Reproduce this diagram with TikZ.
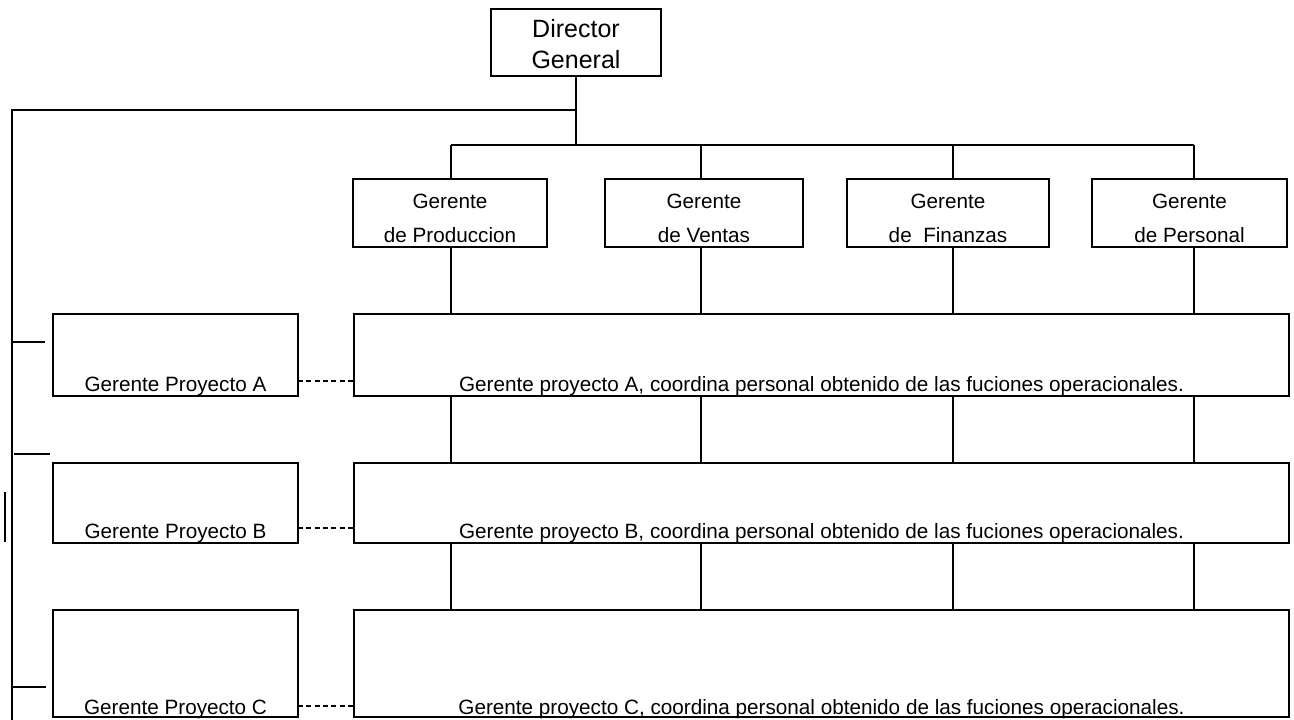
\documentclass[tikz,border=0pt]{standalone}
\usepackage{fontspec}
\setmainfont{Liberation Sans}
\begin{document}
\begin{tikzpicture}[x=1pt,y=-1pt,
  box/.style={draw, line width=2pt, inner sep=0pt, outer sep=0pt, anchor=north west},
  link/.style={line width=2pt},
  dashlink/.style={line width=2pt, dash pattern=on 5pt off 3.3pt},
  txt/.style={inner sep=0pt, anchor=base, font=\fontsize{20.7}{24}\selectfont},
  bigtxt/.style={inner sep=0pt, anchor=base, font=\fontsize{25}{30}\selectfont}]
\useasboundingbox (0,0) rectangle (1294,720);

% director
\node[box, minimum width=170pt, minimum height=67pt] (dir) at (491,9) {};
\node[bigtxt] (dirt1) at (576,37) {Director};
\node[bigtxt] (dirt2) at (576,68) {General};

% functional managers
\node[box, minimum width=194pt, minimum height=68pt] (m1) at (353,179) {};
\node[box, minimum width=198pt, minimum height=68pt] (m2) at (605,179) {};
\node[box, minimum width=202pt, minimum height=68pt] (m3) at (847,179) {};
\node[box, minimum width=195pt, minimum height=68pt] (m4) at (1092,179) {};
\node[txt] (m1a) at (450,208) {Gerente};
\node[txt] (m1b) at (450,242) {de Produccion};
\node[txt] (m2a) at (704,208) {Gerente};
\node[txt] (m2b) at (704,242) {de Ventas};
\node[txt] (m3a) at (948,208) {Gerente};
\node[txt] (m3b) at (948,242) {de~\ Finanzas};
\node[txt] (m4a) at (1189.5,208) {Gerente};
\node[txt] (m4b) at (1189.5,242) {de Personal};

% project rows
\node[box, minimum width=935pt, minimum height=82pt] (A) at (354,314) {};
\node[box, minimum width=935pt, minimum height=80pt] (B) at (354,463) {};
\node[box, minimum width=935pt, minimum height=107pt] (C) at (354,610) {};
\node[box, minimum width=245pt, minimum height=82pt] (pA) at (53,314) {};
\node[box, minimum width=245pt, minimum height=80pt] (pB) at (53,463) {};
\node[box, minimum width=245pt, minimum height=107pt] (pC) at (53,610) {};

\node[txt] (pAt) at (175.5,391) {Gerente Proyecto A};
\node[txt] (pBt) at (175.5,538) {Gerente Proyecto B};
\node[txt] (pCt) at (175.5,714) {Gerente Proyecto C};
\node[txt] (At) at (821.5,391) {Gerente proyecto A, coordina personal obtenido de las fuciones operacionales.};
\node[txt] (Bt) at (821.5,538) {Gerente proyecto B, coordina personal obtenido de las fuciones operacionales.};
\node[txt] (Ct) at (821.5,714) {Gerente proyecto C, coordina personal obtenido de las fuciones operacionales.};

% bus and drop points
\coordinate (c1) at (451,145);
\coordinate (c2) at (701,145);
\coordinate (c3) at (953,145);
\coordinate (c4) at (1194,145);
\coordinate (L) at (12,110);
\coordinate (Lend) at (12,720);

\draw[link] (dir.south) -- (dir.south |- c1);
\draw[link] (c1) -- (c4);
\draw[link] (dir.south |- L) -- (L) -- (Lend);
\foreach \i in {1,2,3,4}{
  \draw[link] (c\i) -- (c\i |- m\i.north);
  \draw[link] (c\i |- m\i.south) -- (c\i |- A.north);
  \draw[link] (c\i |- A.south) -- (c\i |- B.north);
  \draw[link] (c\i |- B.south) -- (c\i |- C.north);
}

% project managers to coordination rows
\coordinate (dA) at (0,381);
\coordinate (dB) at (0,528);
\coordinate (dC) at (0,706);
\draw[dashlink] (pA.east |- dA) -- (A.west |- dA);
\draw[dashlink] (pB.east |- dB) -- (B.west |- dB);
\draw[dashlink] (pC.east |- dC) -- (C.west |- dC);

% short ticks on the left spine
\coordinate (sA) at (12,342);
\coordinate (sAe) at (45,342);
\coordinate (sB) at (14,454);
\coordinate (sBe) at (50,454);
\coordinate (sC) at (12,687);
\coordinate (sCe) at (46,687);
\coordinate (v1) at (4.5,492);
\coordinate (v2) at (4.5,542);
\draw[link] (sA) -- (sAe);
\draw[link] (sB) -- (sBe);
\draw[link] (sC) -- (sCe);
\draw[link] (v1) -- (v2);
\end{tikzpicture}
\end{document}
